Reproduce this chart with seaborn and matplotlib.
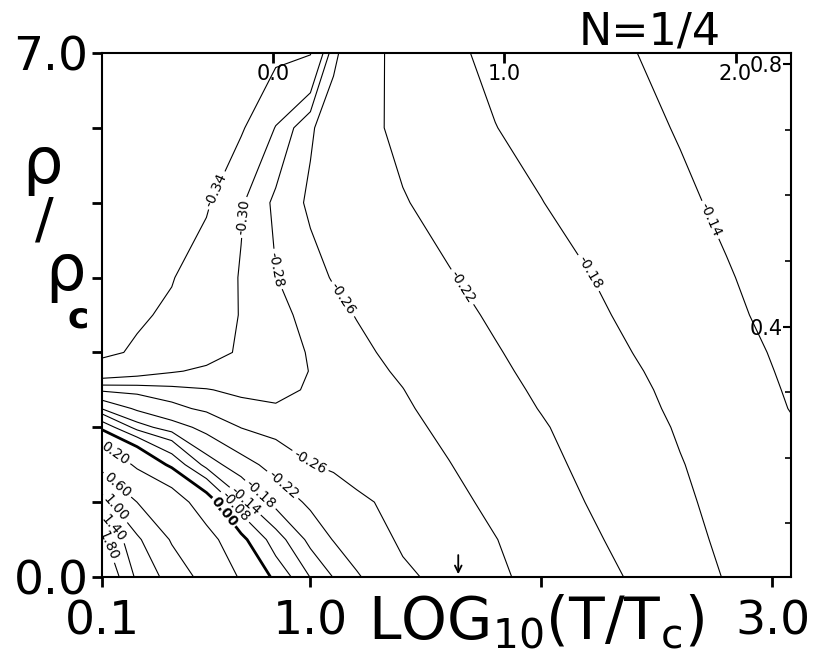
import numpy as np
import matplotlib
matplotlib.use('Agg')
import matplotlib.pyplot as plt
import seaborn as sns
from matplotlib.ticker import FixedLocator

sns.set_theme(style='white')
plt.rcParams['font.family'] = ['DejaVu Sans']
plt.rcParams['mathtext.fontset'] = 'dejavusans'
plt.rcParams['text.color'] = 'black'
plt.rcParams['axes.labelcolor'] = 'black'
plt.rcParams['xtick.color'] = 'black'
plt.rcParams['ytick.color'] = 'black'
plt.rcParams['contour.negative_linestyle'] = 'solid'

# ---- grid: LOG10(T/Tc) along x, rho/rho_c along y ----
x_nodes = [0.1, 0.25, 0.4, 0.55, 0.7, 0.85, 1.0, 1.1, 1.2, 1.4, 1.6,
           1.8, 2.0, 2.2, 2.4, 2.6, 2.8, 3.08]
y_nodes = [0.0, 0.5, 1.0, 1.5, 2.0, 2.25, 2.5, 2.75, 3.0, 3.5, 4.0, 5.0, 6.0, 7.0]

z_y000 = [2.25, 1.32, 0.83, 0.465, 0.169, -0.030, -0.142, -0.1815, -0.216, -0.254,
          -0.270, -0.265, -0.251, -0.234, -0.216, -0.197, -0.178, -0.165]
z_y050 = [1.90, 1.06, 0.564, 0.293, 0.025, -0.119, -0.192, -0.222, -0.239, -0.265,
          -0.270, -0.261, -0.243, -0.226, -0.209, -0.191, -0.1735, -0.160]
z_y100 = [1.13, 0.598, 0.344, 0.055, -0.129, -0.193, -0.228, -0.241, -0.255, -0.268,
          -0.270, -0.252, -0.236, -0.219, -0.203, -0.186, -0.170, -0.155]
z_y150 = [0.473, 0.15, -0.03, -0.1596, -0.204, -0.235, -0.259, -0.265, -0.270, -0.272,
          -0.261, -0.245, -0.229, -0.213, -0.197, -0.1815, -0.168, -0.150]
z_y200 = [-0.036, -0.162, -0.201, -0.233, -0.261, -0.272, -0.276, -0.277, -0.275, -0.268,
          -0.253, -0.238, -0.223, -0.207, -0.192, -0.177, -0.163, -0.143]
z_y225 = [-0.184, -0.227, -0.252, -0.266, -0.274, -0.278, -0.278, -0.277, -0.274, -0.264,
          -0.249, -0.234, -0.2186, -0.204, -0.189, -0.174, -0.160, -0.139]
z_y250 = [-0.266, -0.270, -0.275, -0.279, -0.284, -0.285, -0.278, -0.274, -0.270, -0.2605,
          -0.245, -0.230, -0.215, -0.201, -0.186, -0.172, -0.157, -0.137]
z_y275 = [-0.321, -0.311, -0.302, -0.296, -0.292, -0.288, -0.2795, -0.274, -0.269, -0.2564,
          -0.241, -0.226, -0.2115, -0.1973, -0.183, -0.169, -0.1545, -0.135]
z_y300 = [-0.348, -0.335, -0.322, -0.309, -0.297, -0.288, -0.2786, -0.272, -0.266, -0.252,
          -0.237, -0.2225, -0.208, -0.194, -0.1795, -0.166, -0.152, -0.133]
z_y350 = [-0.352, -0.345, -0.334, -0.316, -0.2986, -0.286, -0.274, -0.2666, -0.259, -0.2445,
          -0.230, -0.2153, -0.201, -0.187, -0.1734, -0.160, -0.1467, -0.128]
z_y400 = [-0.358, -0.352, -0.342, -0.3196, -0.298, -0.2806, -0.2673, -0.2584, -0.2512, -0.2367,
          -0.2222, -0.2084, -0.195, -0.1813, -0.1683, -0.1554, -0.1425, -0.125]
z_y500 = [-0.362, -0.360, -0.355, -0.345, -0.3026, -0.2754, -0.2562, -0.2477, -0.2392, -0.2222,
          -0.2081, -0.1944, -0.1807, -0.169, -0.1574, -0.1458, -0.134, -0.118]
z_y600 = [-0.365, -0.362, -0.358, -0.352, -0.345, -0.2985, -0.263, -0.2466, -0.2326, -0.2115,
          -0.1961, -0.1806, -0.170, -0.1593, -0.1486, -0.1377, -0.127, -0.112]
z_y700 = [-0.368, -0.366, -0.363, -0.360, -0.356, -0.350, -0.342, -0.266, -0.2395, -0.2073,
          -0.1864, -0.1726, -0.162, -0.1514, -0.1408, -0.130, -0.1196, -0.105]

levels = [-0.34, -0.30, -0.28, -0.26, -0.22, -0.18, -0.14, -0.08,
          0.00, 0.20, 0.60, 1.00, 1.40, 1.80]

# where each contour carries its label (data coords)
label_spots = {
    -0.34: [(0.618, 5.13)],
    -0.30: [(0.692, 4.81)],
    -0.28: [(0.853, 4.11)],
    -0.26: [(1.139, 3.71), (0.987, 1.49)],
    -0.22: [(1.66, 3.88), (0.874, 1.21)],
    -0.18: [(2.21, 4.07), (0.792, 1.13)],
    -0.14: [(2.73, 4.77), (0.723, 1.03)],
    -0.08: [(0.671, 0.93)],
    0.00: [(0.614, 0.84)],
    0.20: [(0.146, 1.61)],
    0.60: [(0.159, 1.21)],
    1.00: [(0.154, 0.91)],
    1.40: [(0.146, 0.64)],
    1.80: [(0.133, 0.43)],
}

bottom_ticks = [0.1, 1.0, 2.0, 3.0]
bottom_labels = ['0.1', '1.0', '', '3.0']
top_ticks = [0.0, 1.0, 2.0]
top_shift = 0.84            # top scale = bottom scale - 0.84
right_ticks = [0.4, 0.8]
right_minor = [0.1, 0.2, 0.3, 0.5, 0.6, 0.7]
right_r0, right_slope = 0.0183, 0.1141
arrow_x = 1.64

# ---- figure ----
fig = plt.figure(figsize=(8.21, 6.55), dpi=100)
ax = fig.add_axes([0.1248, 0.1191, 0.8386, 0.8])

X, Y = np.meshgrid(x_nodes, y_nodes)
Z = np.array([z_y000, z_y050, z_y100, z_y150, z_y200, z_y225, z_y250,
              z_y275, z_y300, z_y350, z_y400, z_y500, z_y600, z_y700])

# one contour set per level so each label lands on its own line
for lev in levels:
    lw = 2.0 if lev == 0 else 0.8
    cs = ax.contour(X, Y, Z, levels=[lev], colors='black', linewidths=lw,
                    linestyles='solid')
    txts = cs.clabel(manual=label_spots[lev], fmt='%.2f', fontsize=10,
                     inline=True, inline_spacing=3, colors='black')
    if lev == 0:
        for t in txts:
            t.set_fontweight('bold')

ax.set_xlim(0.1, 3.08)
ax.set_ylim(0, 7)

ax.set_xticks(bottom_ticks)
ax.set_xticklabels(bottom_labels)
ax.set_yticks(range(8))
ax.set_yticklabels(['0.0', '', '', '', '', '', '', '7.0'])
ax.tick_params(axis='both', direction='out', length=7, width=2,
               labelsize=34, colors='black')
ax.tick_params(axis='y', pad=3)
ax.tick_params(axis='x', pad=9)
ax.tick_params(top=False, right=False, bottom=True, left=True)
for sp in ax.spines.values():
    sp.set_color('black')
    sp.set_linewidth(1.5)

# top scale (inside labels)
top = ax.secondary_xaxis('top', functions=(lambda v: v - top_shift,
                                           lambda v: v + top_shift))
top.set_xticks(top_ticks)
top.set_xticklabels(['0.0', '1.0', '2.0'])
top.tick_params(direction='in', length=7, width=2, labelsize=15, pad=-22,
                colors='black')
top.spines['top'].set_visible(False)

# right scale (inside labels)
right = ax.secondary_yaxis('right', functions=(lambda v: right_r0 + right_slope * v,
                                               lambda r: (r - right_r0) / right_slope))
right.set_yticks(right_ticks)
right.set_yticklabels(['0.4', '0.8'])
right.yaxis.set_minor_locator(FixedLocator(right_minor))
right.tick_params(which='major', direction='in', length=6, width=1.5,
                  labelsize=15, pad=-30, colors='black')
right.tick_params(which='minor', direction='in', length=4, width=1.2,
                  colors='black')
right.spines['right'].set_visible(False)

# arrow marking the minimum
ax.annotate('', xy=(arrow_x, 0), xytext=(arrow_x, 0.33),
            arrowprops=dict(arrowstyle='->', color='black', lw=1.3))

# titles / axis names
fig.text(650 / 821, 1 - 32 / 655, 'N=1/4', ha='center', va='center',
         fontsize=32, color='black')
fig.text(536 / 821, 1 - 622 / 655, r'LOG$_{\mathregular{10}}$(T/T$_{\mathregular{c}}$)',
         ha='center', va='center', fontsize=42, color='black')
fig.text(42 / 821, 1 - 165 / 655, 'ρ', ha='center', va='center', fontsize=46,
         color='black')
fig.text(44 / 821, 1 - 222 / 655, '/', ha='center', va='center', fontsize=40,
         color='black')
fig.text(65 / 821, 1 - 272 / 655, 'ρ', ha='center', va='center', fontsize=46,
         color='black')
fig.text(78 / 821, 1 - 318 / 655, 'c', ha='center', va='center', fontsize=26,
         fontweight='bold', color='black')

fig.savefig('out.png', dpi=100, facecolor='white')
